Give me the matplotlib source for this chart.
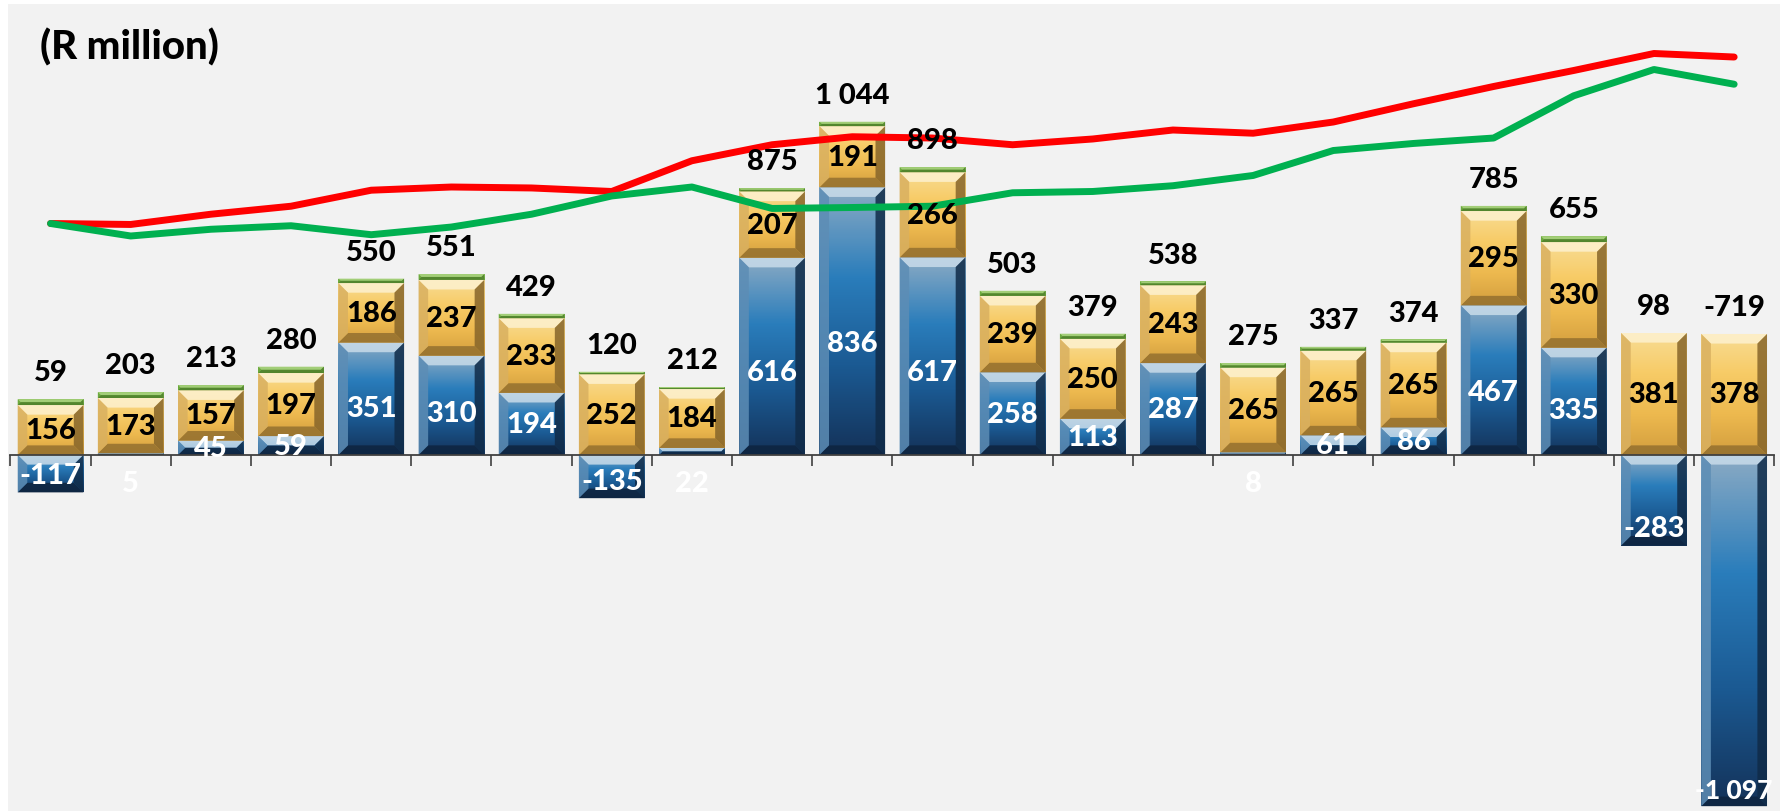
import matplotlib
matplotlib.use("Agg")
import matplotlib.pyplot as plt
import numpy as np
from matplotlib.patches import Polygon, Rectangle
from matplotlib.colors import LinearSegmentedColormap

plt.rcParams['font.family'] = ['Lato', 'DejaVu Sans']

blue = [-117, 5, 45, 59, 351, 310, 194, -135, 22, 616, 836, 617, 258, 113, 287, 8, 61, 86, 467, 335, -283, -1097]
gold = [156, 173, 157, 197, 186, 237, 233, 252, 184, 207, 191, 266, 239, 250, 243, 265, 265, 265, 295, 330, 381, 378]
green = [18, 18, 16, 20, 14, 18, 14, 8, 6, 10, 14, 16, 16, 16, 12, 14, 12, 10, 16, 18, 0, 0]
totals = [59, 203, 213, 280, 550, 551, 429, 120, 212, 875, 1044, 898, 503, 379, 538, 275, 337, 374, 785, 655, 98, -719]

red_line = [723, 720, 752, 777, 827, 837, 834, 823, 919, 969, 994, 990, 969, 987, 1015, 1005, 1040, 1097, 1151, 1201, 1254, 1243]
green_line = [723, 684, 705, 716, 688, 712, 752, 809, 837, 770, 773, 777, 819, 823, 841, 873, 951, 973, 990, 1122, 1204, 1158]

BLUE = dict(face=["#8AAAC4", "#2A7DBB", "#1B5A93", "#14335A"], top="#C9DCEA", left="#5D8DB5",
            right="#102B48", bottom="#0E243F")
GOLD = dict(face=["#F8DC93", "#F7CB66", "#EDB94F", "#D39E3E"], top="#FDF1CF", left="#D9B060",
            right="#86652A", bottom="#94702F")
GREEN = dict(face=["#8CC15E", "#6AA83C"], top="#A9D27F", left="#6AA83C", right="#4E7F2B", bottom="#4E7F2B")

W = 0.82
BX = 0.12   # bevel width in category units
BY = 30.0   # bevel height in data units
FS = 21
WT = 900


def fmt(v):
    s = f"{abs(v):,}".replace(",", " ")
    return ("-" if v < 0 else "") + s


def bevel_box(ax, xc, y0, y1, st, z=2):
    lo, hi = min(y0, y1), max(y0, y1)
    h = hi - lo
    if h <= 0:
        return
    x0, x1 = xc - W / 2, xc + W / 2
    cmap = LinearSegmentedColormap.from_list("f", st["face"][::-1])
    grad = np.linspace(0, 1, 64).reshape(-1, 1)
    im = ax.imshow(grad, extent=[x0, x1, lo, hi], origin="lower", aspect="auto",
                   cmap=cmap, interpolation="bicubic", zorder=z)
    clip = Rectangle((x0, lo), W, h, transform=ax.transData)
    im.set_clip_path(clip)
    by = min(BY, h / 2)
    bx = min(BX, BX * by / BY) if h < 2 * BY else BX
    polys = [
        ([(x0, hi), (x1, hi), (x1 - bx, hi - by), (x0 + bx, hi - by)], st["top"]),
        ([(x0, lo), (x1, lo), (x1 - bx, lo + by), (x0 + bx, lo + by)], st["bottom"]),
        ([(x0, lo), (x0, hi), (x0 + bx, hi - by), (x0 + bx, lo + by)], st["left"]),
        ([(x1, lo), (x1, hi), (x1 - bx, hi - by), (x1 - bx, lo + by)], st["right"]),
    ]
    for pts, c in polys:
        ax.add_patch(Polygon(pts, closed=True, facecolor=c, edgecolor="none", alpha=0.85, zorder=z + 0.1))


fig = plt.figure(figsize=(17.87, 8.12), dpi=100)
fig.patch.set_facecolor("white")
ax = fig.add_axes([0.0045, 0.0, 0.9915, 0.994])
ax.set_facecolor("#F2F2F2")

x = np.arange(len(blue))
for i in x:
    b, g, gr = blue[i], gold[i], green[i]
    base = max(b, 0)
    if b != 0:
        bevel_box(ax, i, 0, b, BLUE)
    bevel_box(ax, i, base, base + g, GOLD)
    bevel_box(ax, i, base + g, base + g + gr, GREEN)
    top = base + g + gr

    # labels
    if b < 0:
        lab = fmt(b)
        ax.annotate(lab, (i, b), xytext=(0, 3), textcoords="offset points", ha="center",
                    va="bottom", color="white", fontsize=FS if len(lab) < 5 else FS - 2,
                    fontweight=WT, zorder=6)
    elif b < 30:
        ax.text(i, -88, fmt(b), ha="center", va="center", color="white", fontsize=FS,
                fontweight=WT, zorder=6)
    else:
        yl = b / 2 if b < 300 else 0.42 * b
        ax.text(i, yl, fmt(b), ha="center", va="center", color="white", fontsize=FS,
                fontweight=WT, zorder=6)
    ax.text(i, base + g / 2, fmt(g), ha="center", va="center", color="black", fontsize=FS,
            fontweight=WT, zorder=6)
    ax.annotate(fmt(totals[i]), (i, top), xytext=(0, 10), textcoords="offset points",
                ha="center", va="bottom", color="black", fontsize=FS, fontweight=WT, zorder=6)

ax.plot(x, red_line, color="#FF0000", lw=5, solid_capstyle="round", solid_joinstyle="round", zorder=4)
ax.plot(x, green_line, color="#00B050", lw=5, solid_capstyle="round", solid_joinstyle="round", zorder=4)

ax.set_xlim(-0.53, 21.57)
ax.set_ylim(-1112, 1409)
for s in ["top", "left", "right"]:
    ax.spines[s].set_visible(False)
ax.spines["bottom"].set_position(("data", 0))
ax.spines["bottom"].set_bounds(-0.5, 21.5)
ax.spines["bottom"].set_color("#404040")
ax.spines["bottom"].set_linewidth(1.3)
ax.spines["bottom"].set_zorder(3)
ax.set_xticks(np.arange(-0.5, 22, 1))
ax.tick_params(axis="x", direction="out", length=8, width=1.2, color="#404040", labelbottom=False)
ax.set_yticks([])

fig.text(40 / 1787, 1 - 47 / 812, "(R million)", ha="left", va="center", fontsize=29, fontweight=WT)

fig.savefig("out.png", dpi=100)
